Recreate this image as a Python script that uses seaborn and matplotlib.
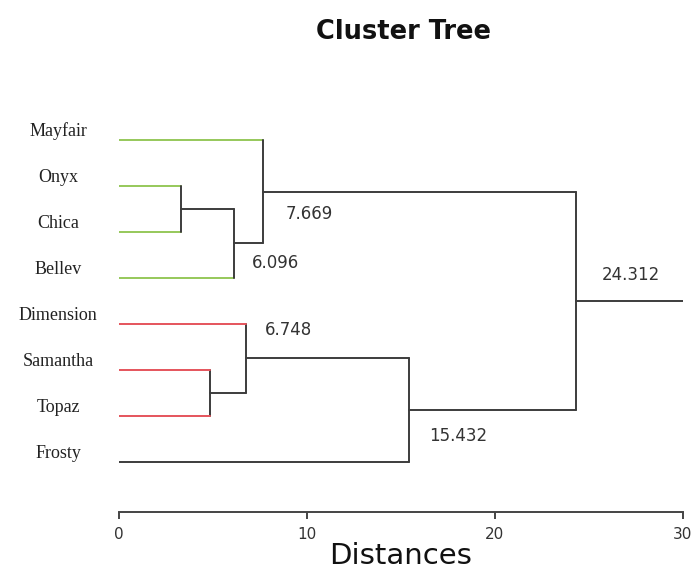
import pandas as pd
import matplotlib.pyplot as plt
import seaborn as sns

# leaves, top to bottom
leaves = ['Mayfair', 'Onyx', 'Chica', 'Bellev', 'Dimension', 'Samantha', 'Topaz', 'Frosty']
leaf_group = ['green', 'green', 'green', 'green', 'red', 'red', 'red', 'black']

# merges in linkage order (child a, child b, distance); new nodes are numbered from 8
merge_a = [1, 8, 0, 5, 4, 12, 10]
merge_b = [2, 3, 9, 6, 11, 7, 13]
merge_dist = [3.3, 6.096, 7.669, 4.85, 6.748, 15.432, 24.312]
merge_label = ['', '6.096', '7.669', '', '6.748', '15.432', '24.312']

x_ticks = [0, 10, 20, 30]
x_max = 30

# text offsets of the distance labels, in pixels (style only)
label_offset = {'6.096': (18, -20), '7.669': (22, -22), '6.748': (19, 28),
                '15.432': (20, -26), '24.312': (26, 26)}

# build the tree segments
n = len(leaves)
node_x = {i: 0.0 for i in range(n)}
node_y = {i: float(i) for i in range(n)}
rows = []
seg = 0
for k, (a, b, h) in enumerate(zip(merge_a, merge_b, merge_dist)):
    node = n + k
    for c in (a, b):
        kind = leaf_group[c] if c < n else 'black'
        rows.append((seg, kind, node_x[c], node_y[c]))
        rows.append((seg, kind, h, node_y[c]))
        seg += 1
    rows.append((seg, 'black', h, node_y[a]))
    rows.append((seg, 'black', h, node_y[b]))
    seg += 1
    node_x[node] = h
    node_y[node] = (node_y[a] + node_y[b]) / 2
root = n + len(merge_dist) - 1
rows.append((seg, 'black', node_x[root], node_y[root]))
rows.append((seg, 'black', x_max, node_y[root]))
segments = pd.DataFrame(rows, columns=['seg', 'kind', 'x', 'y'])

sns.set_theme(style='white')
plt.rcParams['font.family'] = ['DejaVu Sans']

fig = plt.figure(figsize=(6.94, 5.74), dpi=100)
ax = fig.add_axes([119 / 694, 1 - 512 / 574, 564 / 694, 395 / 574])

palette = {'green': '#96c85a', 'red': '#e5545c', 'black': '#3c3c3c'}
sns.lineplot(data=segments, x='x', y='y', units='seg', hue='kind', palette=palette,
             estimator=None, sort=False, legend=False, lw=1.4, ax=ax)

ax.set_xlim(0, x_max)
ax.set_ylim(8.087, -0.5)

for i, name in enumerate(leaves):
    ax.text(-0.108, i - 0.19, name, transform=ax.get_yaxis_transform(),
            ha='center', va='center', fontsize=13, family='Liberation Serif', color='#222222')

for k, txt in enumerate(merge_label):
    if not txt:
        continue
    node = n + k
    ax.annotate(txt, xy=(node_x[node], node_y[node]), xytext=label_offset[txt],
                textcoords='offset pixels', ha='left', va='center',
                fontsize=12, color='#333333')

for s in ['left', 'top', 'right']:
    ax.spines[s].set_visible(False)
ax.spines['bottom'].set_bounds(0, x_max)
ax.spines['bottom'].set_color('#444444')
ax.spines['bottom'].set_linewidth(1.4)
ax.set_yticks([])
ax.set_xticks(x_ticks)
ax.tick_params(axis='x', bottom=True, direction='out', length=5, width=1.4,
               color='#444444', pad=6, labelsize=11, labelcolor='#333333')
ax.set_xlabel('Distances', fontsize=21, color='#111111', labelpad=0)
ax.set_ylabel('')

fig.text(403 / 694, 1 - 32 / 574, 'Cluster Tree', ha='center', va='center',
         fontsize=18.5, fontweight='bold', color='#111111')

fig.savefig('out.png', dpi=100)
